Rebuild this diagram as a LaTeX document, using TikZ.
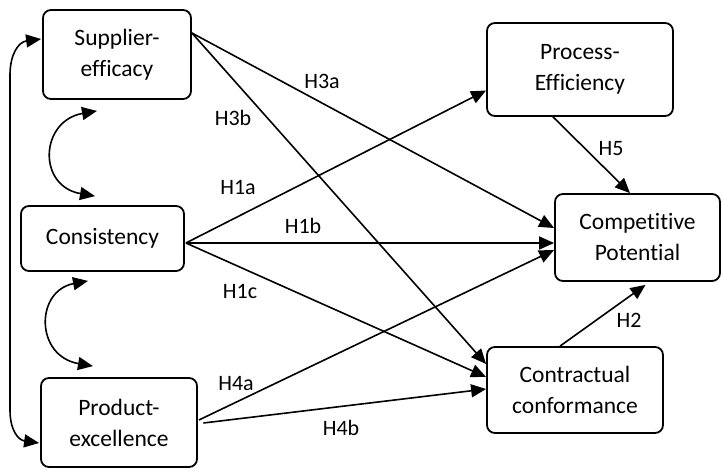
\documentclass[tikz,border=0pt]{standalone}
\usepackage{fontspec}
\setmainfont[Ligatures=NoCommon,RawFeature={-liga;-dlig}]{Carlito}
\usetikzlibrary{arrows.meta,calc}
\begin{document}
\begin{tikzpicture}[x=1pt,y=-1pt,
  box/.style={draw, line width=1.8pt, rounded corners=8pt, align=center,
    font=\fontsize{23.5}{31}\selectfont, inner sep=0pt},
  tip/.tip={Triangle[length=15pt,width=13pt]},
  link/.style={line width=1.6pt, -tip},
  both/.style={line width=1.6pt, tip-tip},
  hyp/.style={font=\fontsize{22}{26}\selectfont, inner sep=0pt}]
\useasboundingbox (0,0) rectangle (723,473);

% constructs
\node[box, minimum width=148pt, minimum height=89pt] (sup)  at (117,54.5)   {Supplier-\\efficacy};
\node[box, minimum width=163pt, minimum height=65pt] (con)  at (102.5,238.5) {Consistency};
\node[box, minimum width=156pt, minimum height=89pt] (prod) at (119,422.5)  {Product-\\excellence};
\node[box, minimum width=186pt, minimum height=93pt] (proc) at (580,69.5)   {Process-\\Efficiency};
\node[box, minimum width=165pt, minimum height=87pt] (comp) at (637.5,237.5) {Competitive\\Potential};
\node[box, minimum width=176pt, minimum height=86pt] (ctr)  at (575,390)    {Contractual\\conformance};

% shared start points of the outgoing paths
\coordinate (supout) at ($(sup.east)+(0,-21.5)$);
\coordinate (conout) at ($(con.east)+(1,4.5)$);

% hypothesised paths
\draw[link] (supout) -- ($(comp.west)+(0,-9.5)$);
\draw[link] (supout) -- ($(ctr.west)+(0,-26)$);
\draw[link] (conout) -- ($(proc.west)+(0,21)$);
\draw[link] (conout) -- ($(comp.west)+(0,5.5)$);
\draw[link] (conout) -- ($(ctr.west)+(0,-13)$);
\draw[link] ($(prod.east)+(1,-2.5)$) -- ($(comp.west)+(0,12.5)$);
\draw[link] ($(prod.east)+(5.5,0.5)$) -- ($(ctr.west)+(0,-1)$);
\draw[link] ($(proc.south)+(-27,0)$) -- ($(comp.north)+(-7.5,0)$);
\draw[link] ($(ctr.north)+(-15,0)$) -- ($(comp.south)+(8,3)$);

% correlations between the exogenous constructs
\draw[both] ($(sup.south)+(-20,11)$) .. controls +(-57,10) and +(-58,-10) .. ($(con.north)+(-7.5,-9)$);
\draw[both] ($(con.south)+(-14.5,9)$) .. controls +(-53,10) and +(-58,-10) .. ($(prod.north)+(-26,-11)$);
\draw[both] ($(sup.west)+(-1,-15.5)$) .. controls (18,42) and (10,55) .. (10,75)
  -- (10,410) .. controls (10,430) and (18,440) .. ($(prod.west)+(-1,20.5)$);

% path labels
\node[hyp] (l3a) at (322,81)  {H3a};
\node[hyp] (l3b) at (233,118) {H3b};
\node[hyp] (l1a) at (238,187.5) {H1a};
\node[hyp] (l1b) at (303,226) {H1b};
\node[hyp] (l1c) at (240,291) {H1c};
\node[hyp] (l4a) at (236,384) {H4a};
\node[hyp] (l4b) at (341,428) {H4b};
\node[hyp] (l5)  at (611,149) {H5};
\node[hyp] (l2)  at (629,320) {H2};
\end{tikzpicture}
\end{document}
